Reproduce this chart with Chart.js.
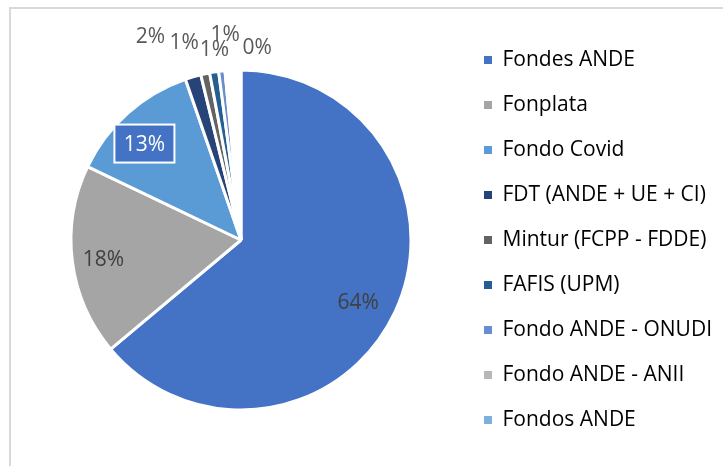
<!DOCTYPE html>
<html>
<head>
<meta charset="utf-8">
<script src="https://cdn.jsdelivr.net/npm/chart.js@4/dist/chart.umd.min.js"></script>
<style>
  html, body { margin: 0; padding: 0; background: #ffffff; width: 723px; height: 466px; overflow: hidden; }
  #frame { position: absolute; left: 9px; top: 7px; width: 760px; height: 520px;
           border-top: 2px solid #d9d9d9; border-left: 2px solid #d9d9d9; }
  #c { position: absolute; left: 0; top: 0; }
</style>
</head>
<body>
<div id="frame"></div>
<canvas id="c" width="723" height="466"></canvas>
<script>
// ---- data ----
const categories = ['Fondes ANDE', 'Fonplata', 'Fondo Covid', 'FDT (ANDE + UE + CI)', 'Mintur (FCPP - FDDE)',
                    'FAFIS (UPM)', 'Fondo ANDE - ONUDI', 'Fondo ANDE - ANII', 'Fondos ANDE'];
const shares = [63.9, 18.2, 12.6, 1.5, 0.85, 0.85, 0.6, 0.05, 1.45];
const pctLabels = ['64%', '18%', '13%', '2%', '1%', '1%', '1%', '0%', ''];

// ---- styles ----
const legendColors = ['#4472C4', '#A5A5A5', '#5B9BD5', '#264478', '#636363', '#255E91', '#698ED0', '#B7B7B7', '#7CAFDD'];
const sliceColors  = ['#4472C4', '#A5A5A5', '#5B9BD5', '#264478', '#636363', '#255E91', '#698ED0', '#B7B7B7', '#FFFFFF'];
const labelStyle = [
  { f: 0.78, dx: -3,  dy: 6,    color: '#404040' },
  { f: 0.81, dx: -1,  dy: 2,    color: '#404040' },
  { f: 0.80, dx: -6,  dy: 5,    color: '#FFFFFF', box: true },
  { f: 1.14, dx: -36, dy: -18,  color: '#595959' },
  { f: 1.14, dx: -16, dy: -9,   color: '#595959' },
  { f: 1.14, dx: 4,   dy: 0,    color: '#595959' },
  { f: 1.14, dx: 6,   dy: -13,  color: '#595959' },
  { f: 1.14, dx: 34,  dy: 0,    color: '#595959' },
  { f: 1.14, dx: 0,   dy: 0,    color: '#595959' }
];
const FONT_FAMILY = '"Open Sans", "Noto Sans", sans-serif';
const LEGEND_SIZE = 21;
const LEGEND_PAD = 24;
const LABEL_SIZE = 21;
const TARGET_BOX_X = 484;
const TARGET_CENTER_X = 241;

const labelPlugin = {
  id: 'pctLabels',
  afterDatasetsDraw(chart) {
    const ctx = chart.ctx;
    const meta = chart.getDatasetMeta(0);
    ctx.save();
    ctx.font = LABEL_SIZE + 'px ' + FONT_FAMILY;
    ctx.textAlign = 'center';
    ctx.textBaseline = 'middle';
    meta.data.forEach((arc, i) => {
      const text = pctLabels[i];
      if (!text) return;
      const p = arc.getProps(['x', 'y', 'startAngle', 'endAngle', 'outerRadius'], true);
      const mid = (p.startAngle + p.endAngle) / 2;
      const s = labelStyle[i];
      const lx = p.x + Math.cos(mid) * p.outerRadius * s.f + s.dx;
      const ly = p.y + Math.sin(mid) * p.outerRadius * s.f + s.dy;
      if (s.box) {
        const w = 60, h = 38;
        ctx.fillStyle = '#4472C4';
        ctx.fillRect(lx - w / 2, ly - h / 2, w, h);
        ctx.strokeStyle = '#FFFFFF';
        ctx.lineWidth = 2;
        ctx.strokeRect(lx - w / 2, ly - h / 2, w, h);
      }
      ctx.fillStyle = s.color;
      ctx.fillText(text, lx, ly + 1);
    });
    ctx.restore();
  }
};

function draw() {
  const chart = new Chart(document.getElementById('c'), {
    type: 'pie',
    data: {
      labels: categories,
      datasets: [{
        data: shares,
        backgroundColor: sliceColors,
        borderColor: '#FFFFFF',
        borderWidth: 3,
        radius: 170
      }]
    },
    options: {
      responsive: false,
      animation: false,
      devicePixelRatio: 1,
      layout: { padding: { left: 20, right: 10, top: 14, bottom: 0 } },
      plugins: {
        tooltip: { enabled: false },
        legend: {
          position: 'right',
          labels: {
            boxWidth: 8,
            boxHeight: 8,
            padding: LEGEND_PAD,
            color: '#595959',
            font: { family: FONT_FAMILY, size: LEGEND_SIZE },
            generateLabels() {
              return categories.map((t, i) => ({
                text: t,
                fillStyle: legendColors[i],
                strokeStyle: legendColors[i],
                lineWidth: 0,
                hidden: false,
                index: i
              }));
            }
          }
        }
      }
    },
    plugins: [labelPlugin]
  });

  // align legend boxes and pie centre with the reference layout
  for (let k = 0; k < 3; k++) {
    const pad = chart.options.layout.padding;
    const hb = chart.legend.legendHitBoxes[0];
    const shift = TARGET_BOX_X - hb.left;
    pad.right = Math.max(0, pad.right - shift);
    chart.update('none');
    const ca = chart.chartArea;
    const cx = (ca.left + ca.right) / 2;
    pad.left = pad.left + 2 * (TARGET_CENTER_X - cx);
    chart.update('none');
  }
}

if (document.fonts && document.fonts.load) {
  document.fonts.load(LEGEND_SIZE + 'px "Open Sans"').then(draw, draw);
} else {
  draw();
}
</script>
</body>
</html>
